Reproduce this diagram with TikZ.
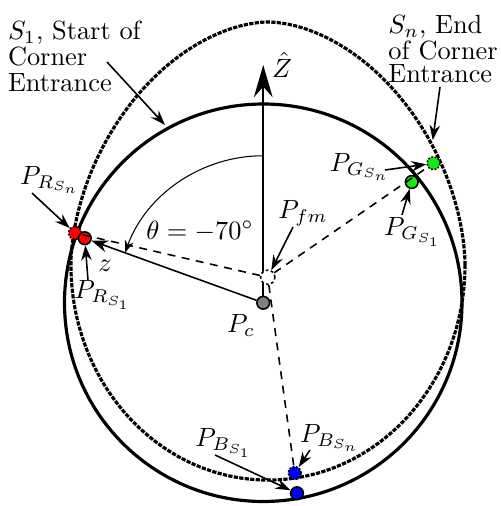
\documentclass[tikz,border=0pt]{standalone}
\usetikzlibrary{arrows.meta}
\definecolor{ptgreen}{RGB}{20,235,20}
\begin{document}
\begin{tikzpicture}[
  pt/.style={circle,draw=black,semithick,inner sep=0pt,minimum size=0.17cm},
  ptn/.style={pt,dash pattern=on 0.7pt off 0.6pt},
  lbl/.style={inner sep=0pt},
  lblarrow/.style={semithick,-{Stealth[length=2mm,width=1.4mm]}},
  proj/.style={semithick,dash pattern=on 3pt off 2.5pt}
]
\useasboundingbox (0,0) rectangle (6.68,6.747);

% Cercle S_1
\draw[very thick] (3.51,2.71) circle (2.65);

% Courbe S_n
\draw[very thick,dash pattern=on 1.6pt off 0.5pt]
plot[domain=0:180,samples=73,smooth]
({3.573+2.627*cos(\x)*pow(abs(cos(\x))+0.0001,0.111)},
 {3.213+3.24*sin(\x)*pow(abs(sin(\x))+0.0001,0.111)})
arc[start angle=180,end angle=360,x radius=2.627,y radius=2.867] -- cycle;

% Axe Z
\node[pt,fill=gray] (Pc) at (3.51,2.71) {};
\coordinate (Ztop) at (3.51,5.88);
\draw[semithick,-{Stealth[length=4.3mm,width=2.5mm]}] (Pc) -- (Ztop);

% Points
\node[pt,fill=white,dash pattern=on 1pt off 1pt,minimum size=0.19cm] (Pfm) at (3.57,3.05) {};
\node[ptn,fill=red] (RSn) at (1.0,3.64) {};
\node[pt,fill=red] (RS1) at (1.13,3.57) {};
\node[ptn,fill=ptgreen] (GSn) at (5.78,4.57) {};
\node[pt,fill=ptgreen] (GS1) at (5.49,4.32) {};
\node[ptn,fill=blue] (BSn) at (3.93,0.44) {};
\node[pt,fill=blue] (BS1) at (3.96,0.17) {};

% Projections
\draw[proj] (Pfm) -- (RSn);
\draw[proj] (Pfm) -- (GSn);
\draw[proj] (Pfm) -- (BSn);

% Vecteur z et angle
\draw[semithick,-{Stealth[length=2.2mm,width=1.6mm]}] (Pc) -- (RS1);
\draw[thin,-{Stealth[length=1.6mm,width=1.2mm]}]
([shift={(90:1.96)}]Pc.center) arc[start angle=90,end angle=160,radius=1.96];

% Textes
\node[lbl,anchor=north west,align=left,font={\fontsize{10}{9.7}\selectfont}] (S1txt) at (0.1,6.47)
{$S_1$, Start of\\Corner\\Entrance};
\node[lbl,anchor=north west,align=left,font={\fontsize{10}{8.6}\selectfont}] (Sntxt) at (5.173,6.55)
{$S_n$, End\\of Corner\\Entrance};
\coordinate (aS1) at (1.427,5.92);
\coordinate (onS1) at (2.2,5.08);
\draw[lblarrow] (aS1) -- (onS1);
\coordinate (aSn) at (5.867,5.587);
\coordinate (onSn) at (5.77,4.88);
\draw[lblarrow] (aSn) -- (onSn);

\node[lbl] (Zlbl) at (3.76,5.88) {$\hat{Z}$};
\node[lbl] (zlbl) at (1.4,3.2) {$z$};
\node[lbl] (thlbl) at (2.667,3.667) {$\theta = -70^\circ$};
\node[lbl] (Pclbl) at (3.213,2.413) {$P_c$};

\node[lbl] (RSnlbl) at (0.667,4.347) {$P_{R_{S_n}}$};
\coordinate (aRSn) at (0.427,4.173);
\draw[lblarrow] (aRSn) -- (RSn);

\node[lbl] (RS1lbl) at (1.373,2.813) {$P_{R_{S_1}}$};
\coordinate (aRS1) at (1.173,3.013);
\draw[lblarrow] (aRS1) -- (RS1);

\node[lbl] (Pfmlbl) at (4.04,3.907) {$P_{fm}$};
\coordinate (aPfm) at (3.907,3.72);
\draw[lblarrow] (aPfm) -- (Pfm);

\node[lbl] (GSnlbl) at (4.8,4.52) {$P_{G_{S_n}}$};
\coordinate (aGSn) at (5.133,4.48);
\draw[lblarrow] (aGSn) -- (GSn);

\node[lbl] (GS1lbl) at (5.507,3.653) {$P_{G_{S_1}}$};
\coordinate (aGS1) at (5.36,3.88);
\draw[lblarrow] (aGS1) -- (GS1);

\node[lbl] (BS1lbl) at (2.987,0.84) {$P_{B_{S_1}}$};
\coordinate (aBS1) at (2.867,0.68);
\draw[lblarrow] (aBS1) -- (BS1);

\node[lbl] (BSnlbl) at (4.4,0.907) {$P_{B_{S_n}}$};
\coordinate (aBSn) at (4.133,0.747);
\draw[lblarrow] (aBSn) -- (BSn);

\end{tikzpicture}
\end{document}
